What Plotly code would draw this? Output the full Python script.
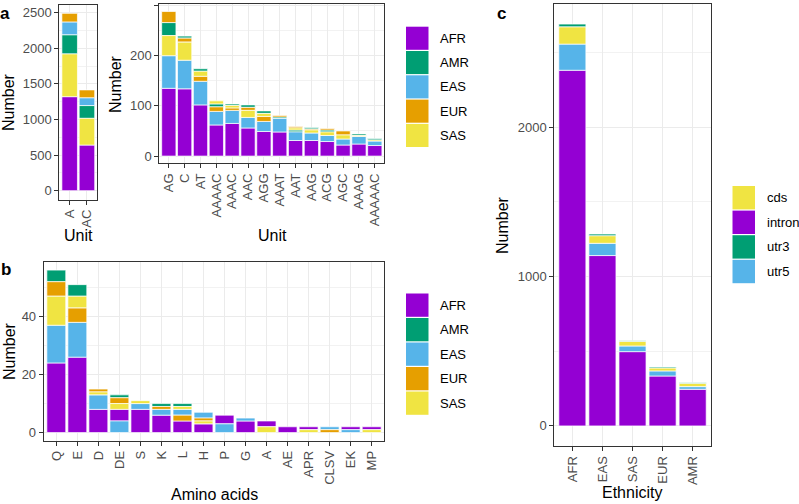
import plotly.graph_objects as go

W, H = 799, 504
FONT = "Liberation Sans"
TICK_COL = "#4D4D4D"
GRID_COL = "#EBEBEB"
BORDER_COL = "#333333"

pops = ["AFR", "AMR", "EAS", "EUR", "SAS"]
pop_colors = ["#9400D3", "#009E73", "#56B4E9", "#E69F00", "#F0E442"]

# ---- Panel a (left): mononucleotide / dinucleotide units ----
a1_units = ["A", "AC"]
a1_AFR = [1320, 640]
a1_AMR = [270, 180]
a1_EAS = [180, 110]
a1_EUR = [120, 110]
a1_SAS = [600, 375]
a1_order = ["AFR SAS AMR EAS EUR", "AFR SAS AMR EAS EUR"]
a1_yticks = [0, 500, 1000, 1500, 2000, 2500]

# ---- Panel a (right): other units ----
a2_units = ["AG", "C", "AT", "AAAAC", "AAAC", "AAC", "AGG", "AAAT", "AAT",
            "AAG", "ACG", "AGC", "AAAG", "AAAAAC"]
a2_AFR = [135, 134, 102, 62, 65, 56, 49, 48, 31, 31, 29, 22, 24, 21]
a2_AMR = [26, 4, 5, 6, 3, 5, 5, 3, 4, 3, 4, 0, 3, 3]
a2_EAS = [65, 57, 47, 27, 26, 21, 20, 27, 17, 15, 12, 12, 15, 9]
a2_EUR = [22, 8, 10, 9, 5, 6, 10, 3, 3, 2, 3, 8, 0, 0]
a2_SAS = [40, 36, 10, 6, 5, 14, 6, 0, 4, 6, 7, 8, 2, 2]
a2_order = ["AFR EAS SAS AMR EUR", "AFR EAS SAS EUR AMR", "AFR EAS EUR SAS AMR",
            "AFR EAS EUR AMR SAS", "AFR EAS EUR SAS AMR", "AFR EAS SAS EUR AMR",
            "AFR EAS EUR SAS AMR", "AFR EAS AMR EUR SAS", "AFR EAS AMR SAS EUR",
            "AFR EAS SAS EUR AMR", "AFR EAS SAS AMR EUR", "AFR EAS SAS EUR AMR",
            "AFR EAS SAS AMR EUR", "AFR EAS SAS AMR EUR"]
a2_yticks = [0, 100, 200, 300]

# ---- Panel b: amino acids ----
b_aa = ["Q", "E", "D", "DE", "S", "K", "L", "H", "P", "G", "A", "AE", "APR",
        "CLSV", "EK", "MP"]
b_AFR = [24, 26, 8, 4, 8, 6, 4, 3, 3, 4, 2, 2, 1, 0, 1, 1]
b_AMR = [4, 4, 0, 1, 0, 1, 1, 0, 0, 0, 0, 0, 0, 0, 0, 0]
b_EAS = [13, 12, 5, 4, 2, 2, 2, 2, 3, 1, 0, 0, 0, 1, 1, 0]
b_EUR = [5, 5, 1, 2, 0, 1, 2, 1, 0, 0, 0, 0, 0, 1, 0, 0]
b_SAS = [10, 4, 1, 2, 1, 0, 1, 1, 0, 0, 2, 0, 1, 0, 0, 1]
b_order = ["AFR EAS SAS EUR AMR", "AFR EAS EUR SAS AMR", "AFR EAS SAS EUR AMR",
           "EAS AFR SAS EUR AMR", "AFR EAS SAS", "AFR EAS EUR AMR",
           "AFR EUR EAS SAS AMR", "AFR SAS EUR EAS", "EAS AFR", "AFR EAS",
           "SAS AFR", "AFR", "SAS AFR", "EUR EAS", "EAS AFR", "SAS AFR"]
b_yticks = [0, 20, 40]

# ---- Panel c: ethnicity by region ----
c_eth = ["AFR", "EAS", "SAS", "EUR", "AMR"]
regions = ["cds", "intron", "utr3", "utr5"]
region_colors = ["#F0E442", "#9400D3", "#009E73", "#56B4E9"]
c_intron = [2380, 1140, 497, 334, 245]
c_utr5 = [175, 82, 38, 34, 18]
c_cds = [116, 51, 31, 20, 23]
c_utr3 = [18, 11, 4, 6, 2]
c_order = ["intron utr5 cds utr3"] * 5
c_yticks = [0, 1000, 2000]


def px_x(x):
    return x / W


def px_y(y):
    return 1 - y / H


fig = go.Figure()


def add_stacked(cats, vals, orders, colors, xa, ya):
    groups = list(vals.keys())
    for g in groups:
        xs, ys, bases = [], [], []
        for i, c in enumerate(cats):
            order = orders[i].split()
            v = vals[g][i]
            if g not in order or v == 0:
                continue
            base = sum(vals[h][i] for h in order[:order.index(g)])
            xs.append(c)
            ys.append(v)
            bases.append(base)
        fig.add_trace(go.Bar(
            x=xs, y=ys, base=bases, width=0.9, name=g,
            marker=dict(color=colors[g], line=dict(color="white", width=0.7)),
            xaxis=xa, yaxis=ya, showlegend=False))
    totals = [sum(vals[g][i] for g in groups) for i in range(len(cats))]
    return max(totals)


pc = dict(zip(pops, pop_colors))
rc = dict(zip(regions, region_colors))

m1 = add_stacked(a1_units, {"AFR": a1_AFR, "AMR": a1_AMR, "EAS": a1_EAS,
                            "EUR": a1_EUR, "SAS": a1_SAS}, a1_order, pc, "x", "y")
m2 = add_stacked(a2_units, {"AFR": a2_AFR, "AMR": a2_AMR, "EAS": a2_EAS,
                            "EUR": a2_EUR, "SAS": a2_SAS}, a2_order, pc, "x2", "y2")
m3 = add_stacked(b_aa, {"AFR": b_AFR, "AMR": b_AMR, "EAS": b_EAS,
                        "EUR": b_EUR, "SAS": b_SAS}, b_order, pc, "x3", "y3")
m4 = add_stacked(c_eth, {"intron": c_intron, "utr5": c_utr5, "cds": c_cds,
                         "utr3": c_utr3}, c_order, rc, "x4", "y4")


def xaxis(cats, left, right, anchor):
    n = len(cats)
    return dict(domain=[px_x(left), px_x(right)], anchor=anchor, type="category",
                categoryorder="array", categoryarray=cats,
                tickmode="array", tickvals=cats, ticktext=cats,
                range=[-0.6, n - 1 + 0.6], tickangle=-90,
                showline=True, mirror=True, linecolor=BORDER_COL, linewidth=1,
                ticks="outside", ticklen=4, tickcolor=BORDER_COL, tickwidth=1,
                showgrid=True, gridcolor=GRID_COL, gridwidth=1, zeroline=False,
                tickfont=dict(family=FONT, size=13, color=TICK_COL))


def yaxis(top, bottom, anchor, mx, ticks):
    step = ticks[1] - ticks[0]
    minor = [t + step / 2 for t in ticks[:-1]] + [ticks[-1] + step / 2]
    minor = [m for m in minor if m <= mx * 1.05]
    return dict(domain=[px_y(bottom), px_y(top)], anchor=anchor,
                range=[-0.05 * mx, 1.05 * mx],
                tickmode="array", tickvals=ticks, ticktext=[str(t) for t in ticks],
                showline=True, mirror=True, linecolor=BORDER_COL, linewidth=1,
                ticks="outside", ticklen=4, tickcolor=BORDER_COL, tickwidth=1,
                showgrid=True, gridcolor=GRID_COL, gridwidth=1, zeroline=False,
                minor=dict(tickmode="array", tickvals=minor, showgrid=True,
                           gridcolor="#F2F2F2", gridwidth=0.6, ticks=""),
                tickfont=dict(family=FONT, size=13, color=TICK_COL))


fig.update_layout(
    width=W, height=H, autosize=False,
    margin=dict(l=0, r=0, t=0, b=0),
    paper_bgcolor="white", plot_bgcolor="white",
    barmode="overlay", showlegend=False,
    xaxis=xaxis(a1_units, 59.3, 97.3, "y"),
    yaxis=yaxis(4.5, 199.5, "x", m1, a1_yticks),
    xaxis2=xaxis(a2_units, 159.3, 384.3, "y2"),
    yaxis2=yaxis(4.3, 163.3, "x2", m2, a2_yticks),
    xaxis3=xaxis(b_aa, 43.7, 384.3, "y3"),
    yaxis3=yaxis(262, 440.7, "x3", m3, b_yticks),
    xaxis4=xaxis(c_eth, 554.3, 710.7, "y4"),
    yaxis4=yaxis(4, 446, "x4", m4, c_yticks),
)

annotations = []
shapes = []


def text(x, y, s, size=16, angle=0, bold=False, xanchor="center", color="black"):
    annotations.append(dict(
        x=px_x(x), y=px_y(y), xref="paper", yref="paper", text=f"<b>{s}</b>" if bold else s,
        showarrow=False, textangle=angle, xanchor=xanchor, yanchor="middle",
        font=dict(family=FONT, size=size, color=color)))


# axis titles
text(9, 102, "Number", angle=-90)
text(78, 235, "Unit")
text(116, 84, "Number", angle=-90)
text(272, 235, "Unit")
text(9, 351, "Number", angle=-90)
text(214, 494, "Amino acids")
text(503, 225, "Number", angle=-90)
text(632, 492, "Ethnicity")

# panel letters
text(5, 13, "a", size=17, bold=True)
text(6, 269, "b", size=17, bold=True)
text(501, 13, "c", size=17, bold=True)


def legend(x0, top, step, labels, colors):
    for i, (lab, col) in enumerate(zip(labels, colors)):
        y0 = top + i * step
        shapes.append(dict(type="rect", xref="paper", yref="paper",
                           x0=px_x(x0), x1=px_x(x0 + 22.5),
                           y0=px_y(y0 + step - 1.2), y1=px_y(y0),
                           fillcolor=col, line=dict(width=0)))
        text(x0 + 32, y0 + (step - 1.2) / 2, lab, size=13, xanchor="left")


legend(406, 26.7, 24.3, pops, pop_colors)
legend(406, 293.5, 24.5, pops, pop_colors)
legend(732.5, 186, 24.6, regions, region_colors)

fig.update_layout(annotations=annotations, shapes=shapes)

fig.write_html("out.html",
               config={"displayModeBar": False},
               post_script="document.body.style.margin='0';document.body.style.overflow='hidden';")
